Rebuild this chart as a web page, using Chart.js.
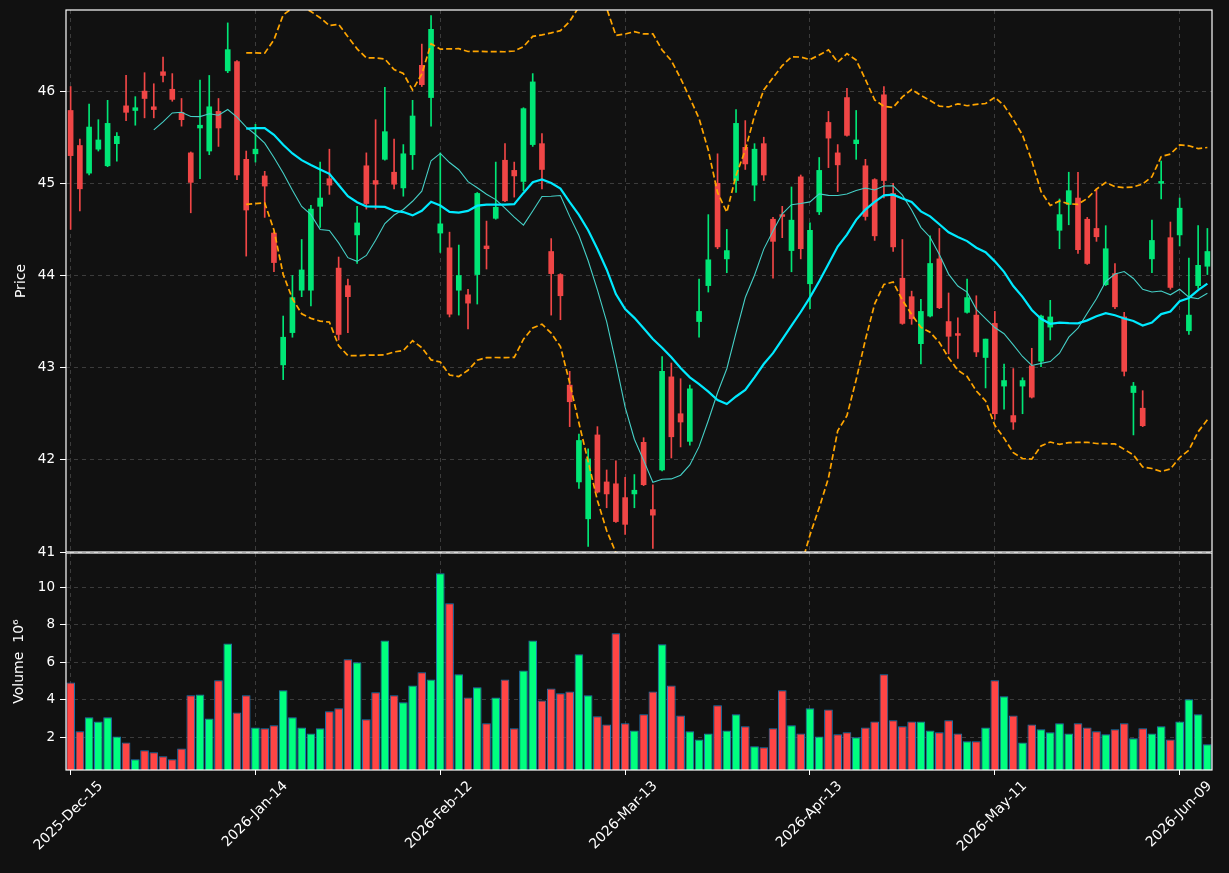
<!DOCTYPE html>
<html>
<head>
<meta charset="utf-8">
<title>Price and volume</title>
<script src="https://cdn.jsdelivr.net/npm/chart.js@4.4.1/dist/chart.umd.min.js"></script>
<style>
  html, body { margin: 0; padding: 0; background: #111111; }
  #wrap { position: relative; width: 1229px; height: 873px; background: #111111; overflow: hidden; }
  #price-box { position: absolute; left: 0; top: 0; width: 1229px; height: 566px; z-index: 2; }
  #volume-box { position: absolute; left: 0; top: 552px; width: 1229px; height: 321px; z-index: 1; }
</style>
</head>
<body>
<div id="wrap">
  <div id="price-box"><canvas id="priceChart"></canvas></div>
  <div id="volume-box"><canvas id="volumeChart"></canvas></div>
</div>
<script>
// ===================== DATA =====================

// trading days (categories)
const dates = [
  '2025-12-15', '2025-12-16', '2025-12-17', '2025-12-18', '2025-12-19', '2025-12-22', '2025-12-23', '2025-12-24',
  '2025-12-26', '2025-12-29', '2025-12-30', '2025-12-31', '2026-01-02', '2026-01-05', '2026-01-06', '2026-01-07',
  '2026-01-08', '2026-01-09', '2026-01-12', '2026-01-13', '2026-01-14', '2026-01-15', '2026-01-16', '2026-01-20',
  '2026-01-21', '2026-01-22', '2026-01-23', '2026-01-26', '2026-01-27', '2026-01-28', '2026-01-29', '2026-01-30',
  '2026-02-02', '2026-02-03', '2026-02-04', '2026-02-05', '2026-02-06', '2026-02-09', '2026-02-10', '2026-02-11',
  '2026-02-12', '2026-02-13', '2026-02-17', '2026-02-18', '2026-02-19', '2026-02-20', '2026-02-23', '2026-02-24',
  '2026-02-25', '2026-02-26', '2026-02-27', '2026-03-02', '2026-03-03', '2026-03-04', '2026-03-05', '2026-03-06',
  '2026-03-09', '2026-03-10', '2026-03-11', '2026-03-12', '2026-03-13', '2026-03-16', '2026-03-17', '2026-03-18',
  '2026-03-19', '2026-03-20', '2026-03-23', '2026-03-24', '2026-03-25', '2026-03-26', '2026-03-27', '2026-03-30',
  '2026-03-31', '2026-04-01', '2026-04-02', '2026-04-06', '2026-04-07', '2026-04-08', '2026-04-09', '2026-04-10',
  '2026-04-13', '2026-04-14', '2026-04-15', '2026-04-16', '2026-04-17', '2026-04-20', '2026-04-21', '2026-04-22',
  '2026-04-23', '2026-04-24', '2026-04-27', '2026-04-28', '2026-04-29', '2026-04-30', '2026-05-01', '2026-05-04',
  '2026-05-05', '2026-05-06', '2026-05-07', '2026-05-08', '2026-05-11', '2026-05-12', '2026-05-13', '2026-05-14',
  '2026-05-15', '2026-05-18', '2026-05-19', '2026-05-20', '2026-05-21', '2026-05-22', '2026-05-26', '2026-05-27',
  '2026-05-28', '2026-05-29', '2026-06-01', '2026-06-02', '2026-06-03', '2026-06-04', '2026-06-05', '2026-06-08',
  '2026-06-09', '2026-06-10', '2026-06-11', '2026-06-12'
];

const open = [
  45.79, 45.41, 45.11, 45.37, 45.19, 45.43, 45.84, 45.79, 46.00, 45.83,
  46.21, 46.02, 45.77, 45.33, 45.60, 45.35, 45.78, 46.22, 46.32, 45.26,
  45.32, 45.08, 44.46, 43.03, 43.38, 43.84, 43.84, 44.75, 45.05, 44.08,
  43.89, 44.44, 45.19, 45.03, 45.26, 45.12, 44.95, 45.31, 46.28, 45.93,
  44.46, 44.30, 43.84, 43.79, 44.01, 44.32, 44.62, 45.25, 45.14, 45.02,
  45.42, 45.43, 44.26, 44.01, 42.81, 41.76, 41.36, 42.27, 41.76, 41.74,
  41.59, 41.63, 42.19, 41.46, 41.89, 42.90, 42.50, 42.20, 43.50, 43.89,
  45.00, 44.18, 45.03, 45.39, 44.98, 45.43, 44.61, 44.66, 44.27, 45.07,
  43.91, 44.69, 45.66, 45.33, 45.93, 45.43, 45.19, 45.04, 45.96, 44.89,
  43.97, 43.77, 43.26, 43.56, 44.18, 43.50, 43.37, 43.60, 43.57, 43.11,
  43.48, 42.80, 42.48, 42.80, 43.02, 43.07, 43.44, 44.49, 44.77, 44.84,
  44.61, 44.51, 43.90, 44.02, 43.55, 42.73, 42.56, 44.18, 45.00, 44.41,
  44.44, 43.40, 43.89, 44.10
];

const high = [
  46.05, 45.48, 45.86, 45.69, 45.90, 45.55, 46.17, 45.94, 46.20, 46.08,
  46.37, 46.19, 45.92, 45.34, 46.12, 46.17, 45.92, 46.74, 46.33, 45.35,
  45.64, 45.13, 44.47, 43.56, 44.00, 44.39, 44.76, 45.23, 45.37, 44.20,
  43.96, 44.75, 45.33, 45.69, 46.04, 45.48, 45.42, 45.90, 46.51, 46.82,
  45.33, 44.47, 44.33, 43.85, 44.90, 44.59, 45.23, 45.43, 45.23, 45.82,
  46.19, 45.54, 44.40, 44.02, 42.96, 42.28, 42.12, 42.36, 41.89, 41.99,
  41.81, 41.84, 42.24, 41.73, 43.12, 43.05, 42.88, 42.81, 43.96, 44.66,
  45.32, 44.50, 45.80, 45.68, 45.43, 45.50, 44.63, 44.75, 44.96, 45.09,
  44.57, 45.28, 45.78, 45.42, 46.03, 45.79, 45.26, 45.05, 46.05, 45.00,
  44.39, 43.83, 43.74, 44.43, 44.51, 43.81, 43.54, 43.96, 43.78, 43.31,
  43.61, 43.04, 42.99, 42.89, 43.21, 43.57, 43.73, 44.83, 45.12, 45.12,
  44.63, 44.94, 44.54, 44.13, 43.60, 42.84, 42.75, 44.60, 45.24, 44.58,
  44.84, 44.19, 44.54, 44.51
];

const low = [
  44.50, 44.70, 45.09, 45.35, 45.18, 45.24, 45.68, 45.63, 45.71, 45.71,
  46.10, 45.89, 45.62, 44.68, 45.05, 45.31, 45.40, 46.20, 45.04, 44.21,
  45.23, 44.63, 44.04, 42.87, 43.33, 43.77, 43.67, 44.52, 44.88, 43.30,
  43.38, 44.13, 44.72, 44.72, 45.25, 44.94, 44.86, 45.15, 46.05, 45.62,
  44.25, 43.55, 43.57, 43.42, 43.69, 44.07, 44.61, 44.80, 44.85, 44.92,
  45.40, 44.94, 43.57, 43.52, 42.36, 41.69, 41.06, 41.64, 41.48, 41.32,
  41.19, 41.48, 41.72, 41.04, 41.88, 42.02, 42.14, 42.16, 43.33, 43.82,
  44.29, 44.03, 44.90, 45.15, 44.81, 45.03, 43.97, 44.41, 44.04, 44.18,
  43.64, 44.66, 45.17, 44.91, 45.51, 45.26, 44.60, 44.38, 44.84, 44.26,
  43.47, 43.47, 43.04, 43.55, 43.64, 43.15, 43.10, 43.59, 43.12, 42.78,
  42.44, 42.55, 42.33, 42.50, 42.67, 43.01, 43.30, 44.29, 44.55, 44.24,
  44.12, 44.37, 43.89, 43.64, 42.91, 42.27, 42.36, 44.03, 44.83, 43.85,
  44.32, 43.36, 43.86, 44.01
];

const close = [
  45.30, 44.94, 45.61, 45.47, 45.65, 45.51, 45.77, 45.82, 45.92, 45.80,
  46.17, 45.91, 45.69, 45.01, 45.63, 45.83, 45.60, 46.45, 45.09, 44.71,
  45.37, 44.97, 44.14, 43.33, 43.76, 44.06, 44.72, 44.84, 44.98, 43.36,
  43.77, 44.57, 44.78, 44.99, 45.56, 44.99, 45.32, 45.73, 46.07, 46.67,
  44.56, 43.58, 44.00, 43.70, 44.89, 44.29, 44.74, 44.81, 45.08, 45.81,
  46.10, 45.15, 44.02, 43.78, 42.63, 42.21, 42.01, 41.65, 41.63, 41.33,
  41.30, 41.67, 41.73, 41.40, 42.96, 42.25, 42.41, 42.77, 43.61, 44.17,
  44.31, 44.27, 45.65, 45.21, 45.37, 45.09, 44.37, 44.64, 44.60, 44.29,
  44.49, 45.14, 45.49, 45.20, 45.52, 45.47, 44.64, 44.43, 45.03, 44.31,
  43.48, 43.53, 43.61, 44.13, 43.65, 43.34, 43.35, 43.76, 43.17, 43.31,
  42.50, 42.86, 42.41, 42.86, 42.68, 43.56, 43.55, 44.66, 44.92, 44.28,
  44.13, 44.42, 44.29, 43.66, 42.96, 42.80, 42.37, 44.38, 45.02, 43.87,
  44.73, 43.57, 44.11, 44.26
];

// volume in millions
const volume = [
  4.93, 2.32, 3.07, 2.85, 3.07, 2.05, 1.73, 0.83, 1.31, 1.20,
  0.99, 0.83, 1.41, 4.24, 4.29, 3.01, 5.04, 7.01, 3.33, 4.24,
  2.53, 2.48, 2.64, 4.51, 3.07, 2.53, 2.21, 2.48, 3.39, 3.55,
  6.16, 6.00, 2.96, 4.40, 7.17, 4.24, 3.87, 4.77, 5.47, 5.09,
  10.75, 9.15, 5.36, 4.13, 4.67, 2.75, 4.13, 5.09, 2.48, 5.57,
  7.17, 3.97, 4.61, 4.35, 4.45, 6.43, 4.24, 3.12, 2.69, 7.55,
  2.75, 2.37, 3.23, 4.45, 6.96, 4.77, 3.17, 2.32, 1.89, 2.21,
  3.71, 2.37, 3.23, 2.59, 1.52, 1.47, 2.48, 4.51, 2.64, 2.21,
  3.55, 2.05, 3.49, 2.16, 2.27, 2.00, 2.53, 2.85, 5.36, 2.91,
  2.59, 2.85, 2.85, 2.37, 2.27, 2.91, 2.21, 1.79, 1.79, 2.53,
  5.04, 4.19, 3.17, 1.73, 2.69, 2.43, 2.27, 2.75, 2.21, 2.75,
  2.53, 2.32, 2.16, 2.43, 2.75, 1.95, 2.48, 2.21, 2.59, 1.89,
  2.85, 4.03, 3.23, 1.63
];

// x tick positions and their labels
const tickIndex = [0, 20, 40, 60, 80, 100, 120];
const tickLabels = ['2025-Dec-15', '2026-Jan-14', '2026-Feb-12', '2026-Mar-13', '2026-Apr-13', '2026-May-11', '2026-Jun-09'];

// ===================== INDICATORS =====================

// moving average / bollinger bands derived from the closes
function rollingMean(values, n) {
  return values.map((v, i) => {
    if (i < n - 1) return null;
    let sum = 0;
    for (let k = i - n + 1; k <= i; k++) sum += values[k];
    return sum / n;
  });
}

function rollingStd(values, n) {
  const mean = rollingMean(values, n);
  return values.map((v, i) => {
    if (mean[i] === null) return null;
    let sq = 0;
    for (let k = i - n + 1; k <= i; k++) sq += (values[k] - mean[i]) ** 2;
    return Math.sqrt(sq / n);
  });
}

const ma10 = rollingMean(close, 10);
const ma20 = rollingMean(close, 20);
const sd20 = rollingStd(close, 20);
const bandUpper = ma20.map((m, i) => (m === null ? null : m + 2 * sd20[i]));
const bandLower = ma20.map((m, i) => (m === null ? null : m - 2 * sd20[i]));

// ===================== STYLE =====================

const UP = '#00e676';
const DOWN = '#f04646';
const VOL_UP = '#00ff7f';
const VOL_DOWN = '#ff4545';
const GRID = '#3c3c3c';

const candleColors = close.map((c, i) => (c >= open[i] ? UP : DOWN));
const volumeColors = close.map((c, i) => (c >= open[i] ? VOL_UP : VOL_DOWN));

Chart.defaults.font.family = '"DejaVu Sans", sans-serif';
Chart.defaults.color = '#ffffff';

// white box around each panel
const framePlugin = {
  id: 'frame',
  afterDraw(chart) {
    const { ctx, chartArea: a } = chart;
    ctx.save();
    ctx.strokeStyle = '#ffffff';
    ctx.lineWidth = 1.2;
    ctx.strokeRect(a.left, a.top, a.right - a.left, a.bottom - a.top);
    ctx.restore();
  }
};

const isTick = i => tickIndex.includes(i);

// fixed y-axis box so both panels line up
function fixYAxis(s) {
  s.width = 66;
  s.paddingTop = 0;
  s.paddingBottom = 0;
}

// ===================== PRICE PANEL =====================

new Chart(document.getElementById('priceChart'), {
  type: 'bar',
  data: {
    labels: dates,
    datasets: [
      {
        label: 'MA20',
        type: 'line',
        data: ma20,
        borderColor: '#00eaff',
        borderWidth: 2.2,
        pointRadius: 0,
        order: 0
      },
      {
        label: 'MA10',
        type: 'line',
        data: ma10,
        borderColor: '#45cfc6',
        borderWidth: 1.1,
        pointRadius: 0,
        order: 1
      },
      {
        label: 'Upper',
        type: 'line',
        data: bandUpper,
        borderColor: '#ffa500',
        borderWidth: 1.7,
        borderDash: [6, 3],
        pointRadius: 0,
        order: 1
      },
      {
        label: 'Lower',
        type: 'line',
        data: bandLower,
        borderColor: '#ffa500',
        borderWidth: 1.7,
        borderDash: [6, 3],
        pointRadius: 0,
        order: 1
      },
      {
        label: 'Body',
        data: open.map((o, i) => [o, close[i]]),
        backgroundColor: candleColors,
        barThickness: 5,
        grouped: false,
        order: 2
      },
      {
        label: 'Wick',
        data: low.map((l, i) => [l, high[i]]),
        backgroundColor: candleColors,
        barThickness: 1,
        grouped: false,
        order: 3
      }
    ]
  },
  options: {
    responsive: true,
    maintainAspectRatio: false,
    animation: false,
    layout: { padding: { top: 10, right: 17, bottom: 14, left: 0 } },
    plugins: { legend: { display: false }, tooltip: { enabled: false } },
    scales: {
      x: {
        offset: true,
        grid: {
          offset: false,
          drawTicks: false,
          color: ctx => (isTick(ctx.index) ? GRID : 'rgba(0,0,0,0)')
        },
        border: { display: false, dash: [4, 4] },
        ticks: { display: false, autoSkip: false },
        afterFit: s => { s.height = 0; }
      },
      y: {
        min: 41,
        max: 46.88,
        afterBuildTicks: s => {
          s.ticks = s.ticks.filter(t => Math.abs(t.value - Math.round(t.value)) < 1e-6);
        },
        ticks: { stepSize: 1, color: '#ffffff', font: { size: 13.5 }, padding: 5 },
        grid: { color: GRID, tickColor: '#ffffff', tickLength: 6 },
        border: { display: false, dash: [4, 4] },
        title: { display: true, text: 'Price', color: '#ffffff', font: { size: 14 }, padding: { top: 13, bottom: 0 } },
        afterFit: fixYAxis
      }
    }
  },
  plugins: [framePlugin]
});

// ===================== VOLUME PANEL =====================

new Chart(document.getElementById('volumeChart'), {
  type: 'bar',
  data: {
    labels: dates,
    datasets: [
      {
        label: 'Volume',
        data: volume,
        backgroundColor: volumeColors,
        borderColor: '#1f77b4',
        borderWidth: 1,
        barPercentage: 0.94,
        categoryPercentage: 1.0
      }
    ]
  },
  options: {
    responsive: true,
    maintainAspectRatio: false,
    animation: false,
    layout: { padding: { top: 1, right: 17, bottom: 0, left: 0 } },
    plugins: { legend: { display: false }, tooltip: { enabled: false } },
    scales: {
      x: {
        offset: true,
        grid: {
          offset: false,
          color: ctx => (isTick(ctx.index) ? GRID : 'rgba(0,0,0,0)'),
          tickColor: ctx => (isTick(ctx.index) ? '#ffffff' : 'rgba(0,0,0,0)'),
          tickLength: 5
        },
        border: { display: false, dash: [4, 4] },
        ticks: {
          autoSkip: false,
          maxRotation: 45,
          minRotation: 45,
          labelOffset: 30,
          color: '#ffffff',
          font: { size: 14 },
          callback: (v, i) => (isTick(i) ? tickLabels[tickIndex.indexOf(i)] : '')
        },
        afterFit: s => { s.height = 103; }
      },
      y: {
        min: 0.26,
        max: 11.83,
        afterBuildTicks: s => {
          s.ticks = s.ticks.filter(t => t.value >= 1 && Math.abs(t.value / 2 - Math.round(t.value / 2)) < 1e-6);
        },
        ticks: { stepSize: 2, color: '#ffffff', font: { size: 13.5 }, padding: 5 },
        grid: { color: GRID, tickColor: '#ffffff', tickLength: 6 },
        border: { display: false, dash: [4, 4] },
        title: { display: true, text: 'Volume  10⁶', color: '#ffffff', font: { size: 14 }, padding: { top: 11, bottom: 0 } },
        afterFit: fixYAxis
      }
    }
  },
  plugins: [framePlugin]
});
</script>
</body>
</html>
